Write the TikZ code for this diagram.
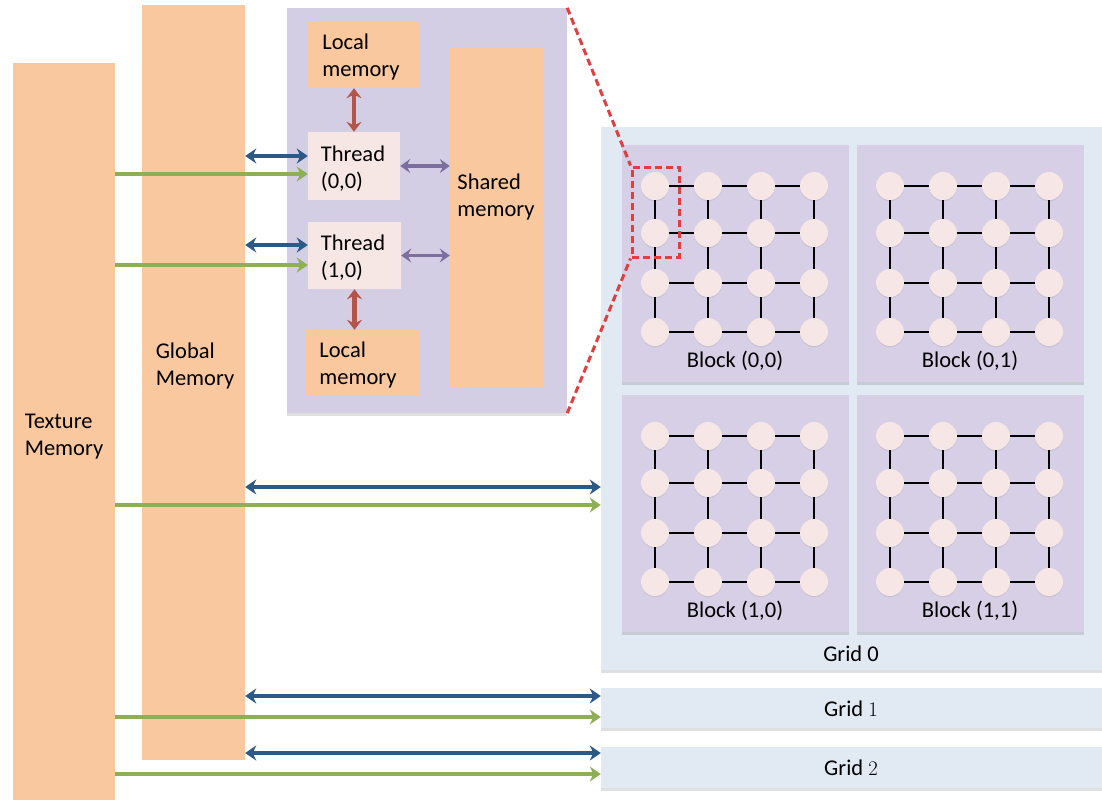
\documentclass[tikz,border=0pt]{standalone}
\usepackage{fontspec}
\setmainfont{Carlito}
\usetikzlibrary{arrows.meta,calc,fit,shadows}

\definecolor{memc}{RGB}{249,200,158}
\definecolor{tblockc}{RGB}{212,206,228}
\definecolor{blockc}{RGB}{214,207,229}
\definecolor{gridc}{RGB}{225,233,243}
\definecolor{threadc}{RGB}{246,231,228}
\definecolor{dotc}{RGB}{246,230,229}
\definecolor{bluec}{RGB}{44,90,135}
\definecolor{greenc}{RGB}{142,175,88}
\definecolor{purplec}{RGB}{125,110,160}
\definecolor{brownc}{RGB}{180,85,75}
\definecolor{redc}{RGB}{226,62,62}

\tikzset{
  lbl/.style={font=\fontsize{22.5}{27}\selectfont, text=black, inner sep=0pt, align=left},
  area/.style={inner sep=0pt, draw=none},
  softshadow/.style={drop shadow={shadow xshift=0pt, shadow yshift=-2.5pt, opacity=0.18, fill=black!70}},
  membox/.style={area, fill=memc},
  tblock/.style={area, fill=tblockc, softshadow},
  blockbox/.style={area, fill=blockc, softshadow},
  gridbox/.style={area, fill=gridc, softshadow},
  threadbox/.style={area, fill=threadc},
  dot/.style={circle, fill=dotc, minimum size=28pt, inner sep=0pt,
    drop shadow={shadow xshift=0pt, shadow yshift=-1.2pt, opacity=0.18, fill=black!50}},
  link/.style={line width=1.5pt, black},
  bluearr/.style={line width=4.3pt, bluec, {Stealth[length=11pt,width=15pt,inset=3.5pt]}-{Stealth[length=11pt,width=15pt,inset=3.5pt]}},
  greenarr/.style={line width=4.3pt, greenc, -{Stealth[length=11pt,width=15pt,inset=3.5pt]}},
  purplearr/.style={line width=3.8pt, purplec, {Stealth[length=10pt,width=14pt,inset=3.5pt]}-{Stealth[length=10pt,width=14pt,inset=3.5pt]}},
  brownarr/.style={line width=4.5pt, brownc, {Stealth[length=10pt,width=15pt,inset=3.5pt]}-{Stealth[length=10pt,width=15pt,inset=3.5pt]}},
  zoomline/.style={draw=redc, line width=3pt, dash pattern=on 7pt off 4pt},
}

\begin{document}
\begin{tikzpicture}[x=1pt,y=-1pt]
\useasboundingbox (0,0) rectangle (1102,801);

% memory columns
\node[membox, fit={(13,63) (115,800)}] (tex) {};
\node[lbl] (tlabel) at (64,437) {Texture\\Memory};
\node[membox, fit={(142,5) (245,760)}] (glob) {};
\node[lbl] (glabel) at (195,366) {Global\\Memory};

% thread block detail
\node[tblock, fit={(287,8) (567,413)}] (tb) {};
\node[membox, fit={(308,22) (420,88)}] (ltop) {};
\node[lbl] (ltoplabel) at (361,57) {Local\\memory};
\node[threadbox, fit={(308,132) (400,200)}] (t00) {};
\node[lbl] (t00label) at (353,169) {Thread\\(0,0)};
\node[threadbox, fit={(308,222) (401,289)}] (t10) {};
\node[lbl] (t10label) at (353,258) {Thread\\(1,0)};
\node[membox, fit={(305,330) (419,396)}] (lbot) {};
\node[lbl] (lbotlabel) at (358,365) {Local\\memory};
\node[membox, fit={(450,47) (543,388)}] (shared) {};
\node[lbl] (slabel) at (496,197) {Shared\\memory};

% grids
\node[gridbox, fit={(601,127) (1102,670)}] (grid0) {};
\node[lbl] (g0label) at (851,654) {Grid 0};
\node[gridbox, fit={(601,688) (1102,728)}] (grid1) {};
\node[lbl] (g1label) at (851,709) {Grid $1$};
\node[gridbox, fit={(601,747) (1102,788)}] (grid2) {};
\node[lbl] (g2label) at (851,768) {Grid $2$};

% blocks of threads
\foreach \bx/\by/\bn/\br/\bc in {622/145/b00/0/0, 857/145/b01/0/1, 622/395/b10/1/0, 857/395/b11/1/1} {
  \node[blockbox, fit={(\bx,\by) (\bx+227,\by+237)}] (\bn) {};
  \node[lbl] (\bn-label) at (\bx+113,\by+216) {Block (\br,\bc)};
  \foreach \i/\cx in {0/33,1/86,2/139,3/192} {
    \foreach \j/\cy in {0/41,1/88,2/138,3/187} {
      \node[dot] (\bn-\i-\j) at (\bx+\cx,\by+\cy) {};
    }
  }
  \foreach \i in {0,1,2,3} {
    \foreach \j/\jn in {0/1,1/2,2/3} {
      \draw[link] (\bn-\i-\j) -- (\bn-\i-\jn);
      \draw[link] (\bn-\j-\i) -- (\bn-\jn-\i);
    }
  }
}

% zoom marker
\node[zoomline, fit={(632,167) (679,257)}, inner sep=0pt] (zoomrect) {};
\draw[zoomline] (tb.north east) -- (zoomrect.north west);
\draw[zoomline] (tb.south east) -- (zoomrect.south west);

% arrow levels
\coordinate (a0b) at (0,156);
\coordinate (a0g) at (0,174);
\coordinate (a1b) at (0,245);
\coordinate (a1g) at (0,265);
\coordinate (g0b) at (0,487);
\coordinate (g0g) at (0,505);
\coordinate (g1b) at (0,696);
\coordinate (g1g) at (0,717);
\coordinate (g2b) at (0,753);
\coordinate (g2g) at (0,774);

% global memory links
\draw[bluearr] (glob.east |- a0b) -- (t00.west |- a0b);
\draw[bluearr] (glob.east |- a1b) -- (t10.west |- a1b);
\draw[bluearr] (glob.east |- g0b) -- (grid0.west |- g0b);
\draw[bluearr] (glob.east |- g1b) -- (grid1.west |- g1b);
\draw[bluearr] (glob.east |- g2b) -- (grid2.west |- g2b);

% texture memory reads
\draw[greenarr] (tex.east |- a0g) -- (t00.west |- a0g);
\draw[greenarr] (tex.east |- a1g) -- (t10.west |- a1g);
\draw[greenarr] (tex.east |- g0g) -- (grid0.west |- g0g);
\draw[greenarr] (tex.east |- g1g) -- (grid1.west |- g1g);
\draw[greenarr] (tex.east |- g2g) -- (grid2.west |- g2g);

% shared and local memory links
\draw[purplearr] (t00.east) -- (t00.east -| shared.west);
\draw[purplearr] (t10.east) -- (t10.east -| shared.west);
\draw[brownarr] (t00.north) -- (t00.north |- ltop.south);
\draw[brownarr] (t10.south) -- (t10.south |- lbot.north);
\end{tikzpicture}
\end{document}
